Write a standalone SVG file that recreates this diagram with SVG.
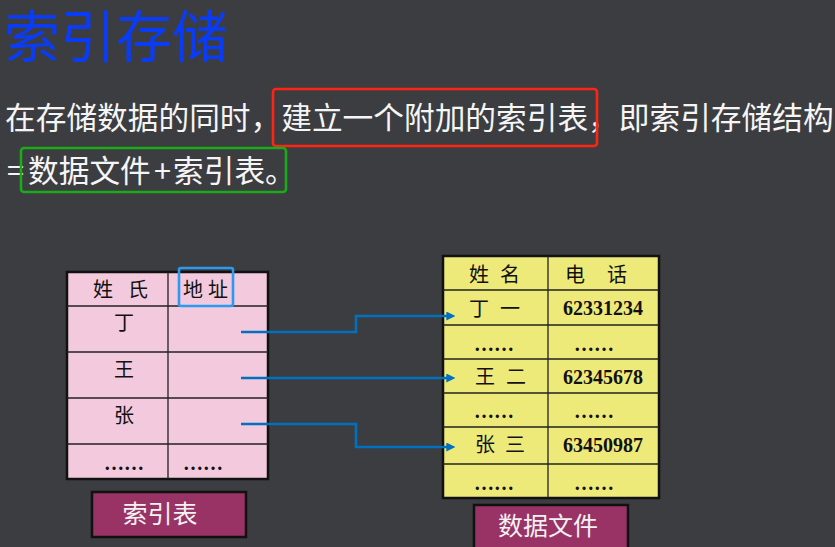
<svg xmlns="http://www.w3.org/2000/svg" width="835" height="547" viewBox="0 0 835 547">
<style>
.sans{font-family:"Noto Sans CJK SC","Noto Sans",sans-serif}
.ser{font-family:"Liberation Serif","Noto Sans CJK SC",serif;fill:#111}
.c{font-size:20px}
.num{font-size:20px;font-weight:bold;text-anchor:middle}
.dots{font-size:20px;font-weight:bold;text-anchor:middle}
.mid{text-anchor:middle}
.outer{stroke:#111;stroke-width:2.5}
.grid{stroke:#222;stroke-width:1.3;fill:none}
.lbl{fill:#993366;stroke:#111;stroke-width:2.5}
.lbltxt{fill:#f2f2f2;font-size:25px;text-anchor:middle}
.conn{fill:none;stroke:#0070c0;stroke-width:2.6}
.hl{fill:none;stroke-width:2.6}
</style>
<defs>
<marker id="arr" viewBox="0 0 10 10" refX="3" refY="5" markerWidth="9" markerHeight="9" markerUnits="userSpaceOnUse" orient="auto">
<path d="M0,0 L10,5 L0,10 z" fill="#0070c0"/>
</marker>
</defs>
<rect width="835" height="547" fill="#3c3d41"/>

<g id="title">
<text class="sans" x="4" y="57" font-size="56" fill="#0a3cf5">索引存储</text>
</g>

<g id="desc">
<text class="sans" x="5" y="129" font-size="30.7" fill="#f5f5f5">在存储数据的同时，建立一个附加的索引表，即索引存储结构</text>
<text class="sans" x="7" y="182" font-size="30.7" fill="#f5f5f5">=</text>
<text class="sans" y="182" font-size="30.7" fill="#f5f5f5"><tspan x="28">数据文件</tspan><tspan x="154">+</tspan><tspan x="173">索引表。</tspan></text>
<rect class="hl" x="273" y="89" width="324" height="57" rx="3" stroke="#ff2414"/>
<rect class="hl" x="21" y="148" width="265" height="44" rx="3" stroke="#1aaa1a"/>
</g>

<g id="index-table">
<rect class="outer" x="67" y="272" width="201" height="207" fill="#f2c9dd"/>
<path class="grid" d="M168,272 V479 M67,306 H268 M67,352 H268 M67,398 H268 M67,444 H268"/>
<text class="ser c"><tspan x="93" y="297">姓</tspan><tspan x="128" y="297">氏</tspan></text>
<text class="ser c"><tspan x="183" y="297">地</tspan><tspan x="208" y="297">址</tspan></text>
<rect x="179" y="268" width="54" height="38" rx="2" fill="none" stroke="#2a9bf0" stroke-width="2.6"/>
<text class="ser c mid" x="124" y="330">丁</text>
<text class="ser c mid" x="124" y="377">王</text>
<text class="ser c mid" x="124" y="423">张</text>
<text class="ser dots" x="124" y="470">……</text>
<text class="ser dots" x="203" y="470">……</text>
</g>

<g id="data-table">
<rect class="outer" x="443" y="256" width="216" height="242" fill="#eeea7a"/>
<path class="grid" d="M548,256 V498 M443,290 H659 M443,325 H659 M443,359 H659 M443,393 H659 M443,427 H659 M443,464 H659"/>
<text class="ser c"><tspan x="469" y="282">姓</tspan><tspan x="500" y="282">名</tspan></text>
<text class="ser c"><tspan x="565" y="282">电</tspan><tspan x="607" y="282">话</tspan></text>
<text class="ser c"><tspan x="469" y="316">丁</tspan><tspan x="500" y="316">一</tspan></text>
<text class="ser num" x="603" y="315">62331234</text>
<text class="ser dots" x="494" y="351">……</text>
<text class="ser dots" x="594" y="351">……</text>
<text class="ser c"><tspan x="475" y="384">王</tspan><tspan x="506" y="384">二</tspan></text>
<text class="ser num" x="603" y="384">62345678</text>
<text class="ser dots" x="494" y="418">……</text>
<text class="ser dots" x="594" y="418">……</text>
<text class="ser c"><tspan x="475" y="452">张</tspan><tspan x="505" y="452">三</tspan></text>
<text class="ser num" x="603" y="452">63450987</text>
<text class="ser dots" x="494" y="490">……</text>
<text class="ser dots" x="594" y="490">……</text>
</g>

<g id="label-index">
<rect class="lbl" x="92" y="492" width="154" height="45"/>
<text class="sans lbltxt" x="160" y="523">索引表</text>
</g>

<g id="label-data">
<rect class="lbl" x="474" y="505" width="154" height="46"/>
<text class="sans lbltxt" x="548" y="535">数据文件</text>
</g>

<g id="connectors">
<path class="conn" d="M241,332 H356 V316 H449" marker-end="url(#arr)"/>
<path class="conn" d="M241,378 H449" marker-end="url(#arr)"/>
<path class="conn" d="M241,424 H356 V447 H449" marker-end="url(#arr)"/>
</g>
</svg>
